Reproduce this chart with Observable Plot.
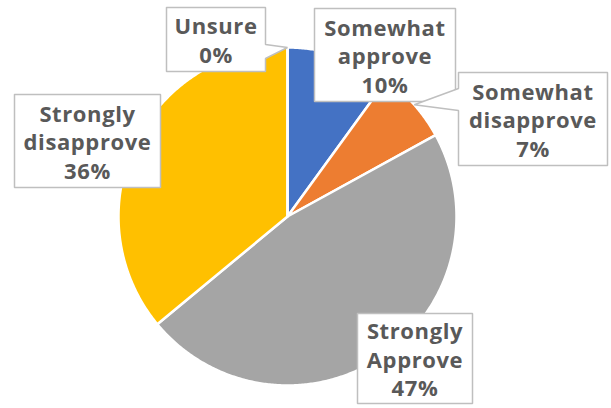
<!DOCTYPE html>
<html>
<head>
<meta charset="utf-8">
<script src="https://cdn.jsdelivr.net/npm/d3@7"></script>
<script src="https://cdn.jsdelivr.net/npm/@observablehq/plot@0.6"></script>
<style>
  html, body { margin: 0; padding: 0; background: #fff; }
  #chart svg { display: block; }
  #chart text { letter-spacing: 0.6px; }
</style>
</head>
<body>
<div id="chart"></div>
<script>
// ---- data ----
const categories = ["Somewhat approve", "Somewhat disapprove", "Strongly Approve", "Strongly disapprove", "Unsure"];
const values = [10, 7, 47, 36, 0];
const colors = ["#4472C4", "#ED7D31", "#A5A5A5", "#FFC000", "#7F7F7F"];

// ---- layout (pixels) ----
const W = 611, H = 408;
const CX = 287, CY = 216, R = 169;
// callout boxes: x0,x1,y0,y1 in pixels; optional pointer on an edge
const callouts = {
  "Unsure":              {x0: 166, x1: 265, y0: 7,   y1: 71,  ptr: {edge: "right", a: 44, b: 58}},
  "Somewhat approve":    {x0: 314, x1: 455, y0: 8,   y1: 101},
  "Somewhat disapprove": {x0: 458, x1: 607, y0: 72,  y1: 165, ptr: {edge: "left", a: 88, b: 110}},
  "Strongly disapprove": {x0: 14,  x1: 160, y0: 94,  y1: 187},
  "Strongly Approve":    {x0: 357, x1: 472, y0: 313, y1: 403}
};

const total = d3.sum(values);
const ux = px => (px - CX) / R;
const uy = py => (CY - py) / R;

// slices as polygons in pie units (angle 0 = 12 o'clock, clockwise)
const slicePts = [];
const mids = {};
let acc = 0;
categories.forEach((c, i) => {
  const a0 = acc / total * 2 * Math.PI;
  acc += values[i];
  const a1 = acc / total * 2 * Math.PI;
  mids[c] = (a0 + a1) / 2;
  slicePts.push({c, x: 0, y: 0});
  const n = Math.max(2, Math.ceil((a1 - a0) / (Math.PI / 360)));
  for (let k = 0; k <= n; k++) {
    const a = a0 + (a1 - a0) * k / n;
    slicePts.push({c, x: Math.sin(a), y: Math.cos(a)});
  }
  slicePts.push({c, x: 0, y: 0});
});

// callout polygons
const boxPts = [];
const labels = [];
categories.forEach((c, i) => {
  const b = callouts[c];
  const tip = {x: Math.sin(mids[c]), y: Math.cos(mids[c])};
  const P = (px, py) => boxPts.push({c, x: ux(px), y: uy(py)});
  const T = () => boxPts.push({c, x: tip.x, y: tip.y});
  P(b.x0, b.y0); P(b.x1, b.y0);
  if (b.ptr && b.ptr.edge === "right") { P(b.x1, b.ptr.a); T(); P(b.x1, b.ptr.b); }
  P(b.x1, b.y1); P(b.x0, b.y1);
  if (b.ptr && b.ptr.edge === "left") { P(b.x0, b.ptr.b); T(); P(b.x0, b.ptr.a); }
  P(b.x0, b.y0);
  labels.push({c, x: ux((b.x0 + b.x1) / 2), y: uy((b.y0 + b.y1) / 2),
    text: c.split(" ").join("\n") + "\n" + values[i] + "%"});
});

const plot = Plot.plot({
  width: W, height: H,
  marginLeft: CX - R, marginRight: W - (CX + R),
  marginTop: CY - R, marginBottom: H - (CY + R),
  x: {domain: [-1, 1], axis: null},
  y: {domain: [-1, 1], axis: null},
  color: {domain: categories, range: colors},
  style: {background: "#fff", overflow: "visible"},
  marks: [
    Plot.line(slicePts, {x: "x", y: "y", z: "c", fill: "c", stroke: "#fff", strokeWidth: 2.5, strokeLinejoin: "round", curve: "linear"}),
    Plot.line(boxPts, {x: "x", y: "y", z: "c", fill: "#fff", stroke: "#BFBFBF", strokeWidth: 1.5, strokeLinejoin: "miter", curve: "linear"}),
    Plot.text(labels, {x: "x", y: "y", text: "text", fill: "#595959", fontSize: 22, fontWeight: "bold",
      fontFamily: "'Open Sans', sans-serif", lineHeight: 1.3, lineAnchor: "middle", textAnchor: "middle"})
  ]
});
document.getElementById("chart").appendChild(plot);
</script>
</body>
</html>
